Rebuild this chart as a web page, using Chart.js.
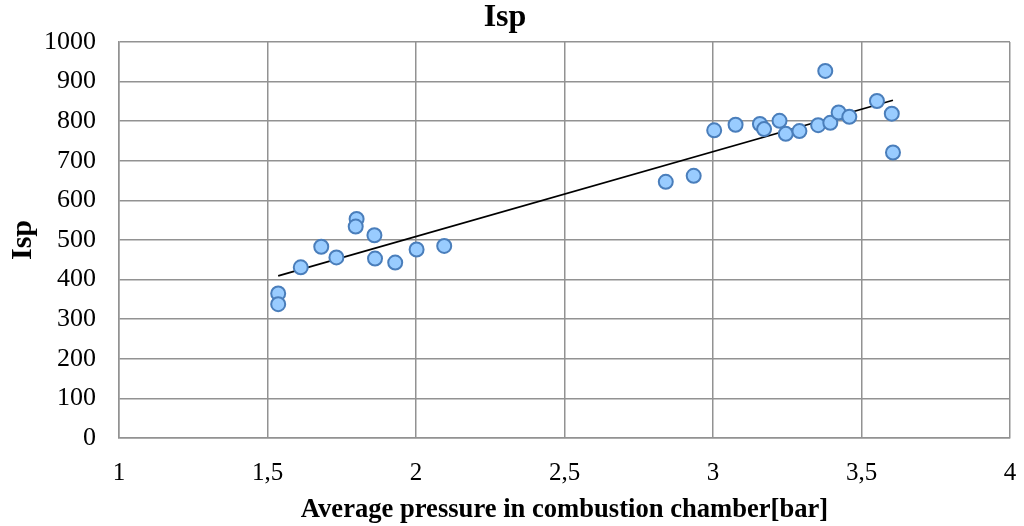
<!DOCTYPE html>
<html>
<head>
<meta charset="utf-8">
<script src="https://cdn.jsdelivr.net/npm/chart.js@4"></script>
<style>
  html, body { margin: 0; padding: 0; background: #fff; }
  #wrap { width: 1024px; height: 526px; }
</style>
</head>
<body>
<div id="wrap"><canvas id="ispChart" width="1024" height="526"></canvas></div>
<script>
// ====================
// data
// ====================
const pressure = [1.536, 1.536, 1.612, 1.681, 1.732, 1.800, 1.797, 1.860, 1.862, 1.930, 2.002, 2.095,
                  2.841, 2.935, 3.004, 3.076, 3.158, 3.172, 3.224, 3.245, 3.291, 3.354, 3.378, 3.395,
                  3.423, 3.459, 3.552, 3.602, 3.606];
const isp = [365, 338, 431, 483, 456, 553, 534, 512, 453, 443, 476, 485,
             647, 662, 777, 791, 793, 780, 801, 768, 775, 790, 927, 796,
             822, 811, 851, 819, 721];
const xTicks = [1, 1.5, 2, 2.5, 3, 3.5, 4];
const yTicks = [0, 100, 200, 300, 400, 500, 600, 700, 800, 900, 1000];

// ====================
// linear trend line (least squares)
// ====================
const n = pressure.length;
const mx = pressure.reduce((a, b) => a + b, 0) / n;
const my = isp.reduce((a, b) => a + b, 0) / n;
let sxy = 0, sxx = 0;
for (let i = 0; i < n; i++) {
    sxy += (pressure[i] - mx) * (isp[i] - my);
    sxx += (pressure[i] - mx) * (pressure[i] - mx);
}
const slope = sxy / sxx;
const icpt = my - slope * mx;
const xMin = Math.min(...pressure), xMax = Math.max(...pressure);
const trend = [xMin, xMax].map(x => ({ x: x, y: icpt + slope * x }));

const points = pressure.map((p, i) => ({ x: p, y: isp[i] }));

const serif = "'Liberation Serif', 'Times New Roman', serif";
const gridColor = "#929292";

new Chart(document.getElementById("ispChart"), {
    type: "scatter",
    data: {
        datasets: [
            {
                label: "Isp",
                data: points,
                backgroundColor: "#99ccff",
                borderColor: "#4a7ebb",
                borderWidth: 2,
                pointRadius: 7,
                order: 1
            },
            {
                label: "trend",
                type: "line",
                data: trend,
                borderColor: "#000",
                borderWidth: 1.75,
                pointRadius: 0,
                fill: false,
                order: 2
            }
        ]
    },
    options: {
        responsive: false,
        animation: false,
        layout: { padding: { left: 0, right: 14, top: 0, bottom: 0 } },
        plugins: {
            legend: { display: false },
            tooltip: { enabled: false },
            title: {
                display: true,
                text: "Isp",
                color: "#000",
                font: { family: serif, size: 32, weight: "bold", lineHeight: 1 },
                padding: { top: 2, bottom: 8 }
            }
        },
        scales: {
            x: {
                type: "linear",
                min: 1,
                max: 4,
                afterBuildTicks: s => { s.ticks = xTicks.map(v => ({ value: v })); },
                afterFit: s => {
                    s.height = 88;
                    // tick padding gets added to the side padding, drop it
                    s.paddingLeft = 0;
                    s.paddingRight = 0;
                },
                grid: { color: gridColor, lineWidth: 1.5, drawTicks: false },
                border: { color: gridColor, width: 1.5 },
                ticks: {
                    color: "#000",
                    padding: 20,
                    font: { family: serif, size: 25 },
                    callback: v => String(v).replace(".", ",")
                },
                title: {
                    display: true,
                    text: "Average pressure in combustion chamber[bar]",
                    color: "#000",
                    font: { family: serif, size: 26.6, weight: "bold" },
                    padding: { top: 0, bottom: 0 }
                }
            },
            y: {
                type: "linear",
                min: 0,
                max: 1000,
                afterBuildTicks: s => { s.ticks = yTicks.map(v => ({ value: v })); },
                afterFit: s => { s.width = 119; },
                grid: { color: gridColor, lineWidth: 1.5, drawTicks: false },
                border: { color: gridColor, width: 1.5 },
                ticks: {
                    color: "#000",
                    padding: 23,
                    font: { family: serif, size: 26 },
                    callback: v => String(v)
                },
                title: {
                    display: true,
                    text: "Isp",
                    color: "#000",
                    font: { family: serif, size: 30, weight: "bold" },
                    padding: { top: 5, bottom: 0 }
                }
            }
        }
    }
});
</script>
</body>
</html>
